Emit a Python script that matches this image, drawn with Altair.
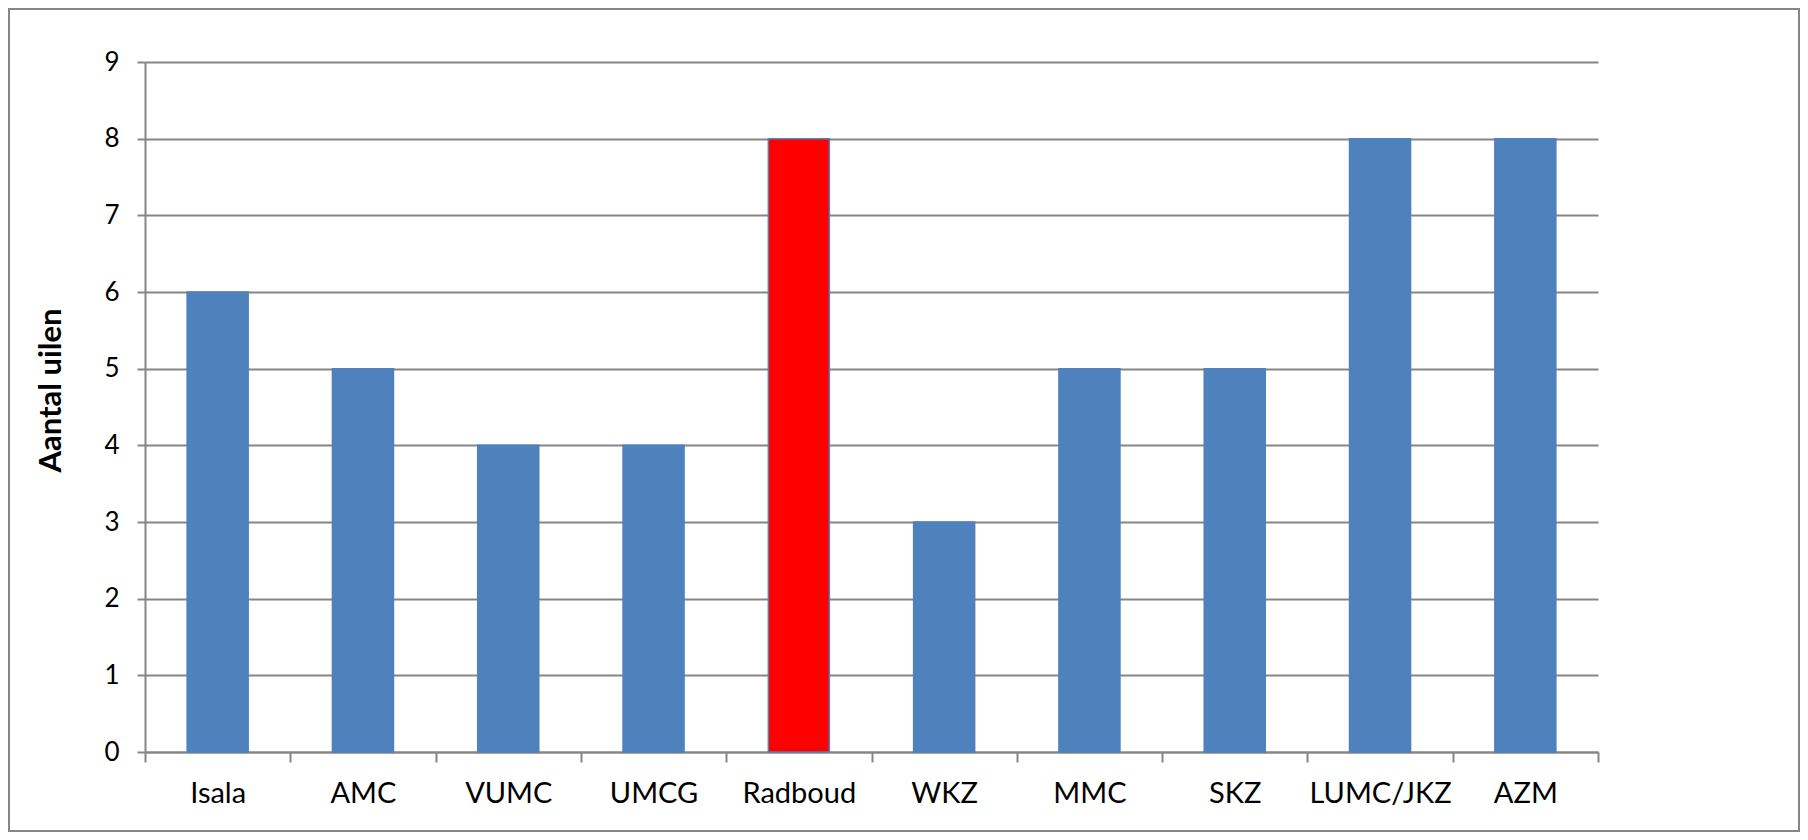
import altair as alt
import pandas as pd

hospitals = ["Isala", "AMC", "VUMC", "UMCG", "Radboud", "WKZ", "MMC", "SKZ", "LUMC/JKZ", "AZM"]
counts = [6, 5, 4, 4, 8, 3, 5, 5, 8, 8]
highlight = "Radboud"
y_ticks = [0, 1, 2, 3, 4, 5, 6, 7, 8, 9]

df = pd.DataFrame({"hospital": hospitals, "count": counts})

GRID = "#868686"
BLUE = "#4F81BD"
FONT = "Lato"

bars = alt.Chart(df).mark_bar(
    stroke=BLUE, strokeWidth=1.5, width=alt.RelativeBandSize(0.42)
).encode(
    x=alt.X(
        "hospital:N",
        sort=hospitals,
        scale=alt.Scale(paddingInner=0, paddingOuter=0),
        axis=alt.Axis(
            title=None, labelAngle=0, tickBand="extent", tickSize=10,
            tickColor=GRID, tickWidth=2, domainColor=GRID, domainWidth=2,
            labelPadding=17, labelFontSize=29, labelFont=FONT,
            labelColor="black", grid=False,
        ),
    ),
    y=alt.Y(
        "count:Q",
        scale=alt.Scale(domain=[0, 9], nice=False),
        axis=alt.Axis(
            values=y_ticks, format="d", title="Aantal uilen",
            titleFont=FONT, titleFontSize=31, titleFontWeight="bold",
            titleColor="black", titleAngle=-90, titleAlign="center",
            titleBaseline="alphabetic", titleX=-85, titleY=328,
            tickSize=8, tickColor=GRID, tickWidth=2,
            domainColor=GRID, domainWidth=2,
            gridColor=GRID, gridWidth=2, grid=True,
            labelPadding=18, labelFontSize=26, labelFont=FONT,
            labelColor="black",
        ),
    ),
    color=alt.condition(alt.datum.hospital == highlight, alt.value("#FF0000"), alt.value(BLUE)),
)

frame = alt.Chart(pd.DataFrame({"f": [0]})).mark_rect(
    filled=False, stroke=GRID, strokeWidth=2
).encode(
    x=alt.value(-136), x2=alt.value(1654), y=alt.value(-53), y2=alt.value(769)
)

chart = alt.layer(bars, frame).properties(
    width=1453,
    height=690,
    padding={"left": 137, "top": 54, "right": 202, "bottom": 80},
    autosize=alt.AutoSizeParams(type="none"),
).configure_view(stroke=None)

chart.save("out.html", embed_options={"renderer": "svg", "actions": False})
